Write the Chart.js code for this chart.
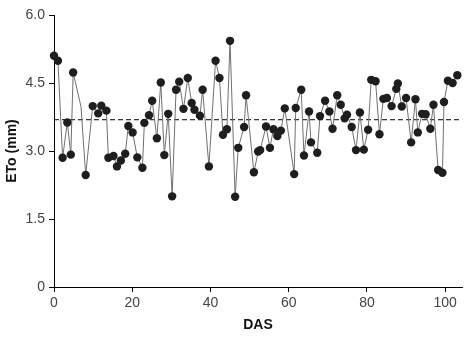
<!DOCTYPE html>
<html>
<head>
<meta charset="utf-8">
<script src="https://cdn.jsdelivr.net/npm/chart.js@4/dist/chart.umd.min.js"></script>
<style>
  html, body { margin: 0; padding: 0; background: #fff; }
  #wrap { width: 470px; height: 338px; }
</style>
</head>
<body>
<div id="wrap"><canvas id="etoChart" width="470" height="338"></canvas></div>
<script>
// days after sowing (DAS) and daily ETo (mm)
const days = [0, 1, 2.2, 3.4, 4.3, 4.9, 6.9, 8.1, 9.9, 11.3,
    12.1, 13.4, 13.9, 15.2, 16.1, 17.1, 18.2, 19.0, 20.1, 21.3,
    22.6, 23.1, 24.3, 25.1, 26.3, 27.3, 28.2, 29.2, 30.2, 31.2,
    32.0, 33.1, 34.2, 35.2, 35.9, 37.3, 38.0, 39.6, 41.3, 42.3,
    43.2, 44.2, 45.0, 46.3, 47.1, 48.6, 49.1, 51.1, 52.2, 52.7,
    54.2, 55.2, 56.1, 57.1, 58.0, 59.0, 61.4, 61.8, 63.2, 63.9,
    65.2, 65.7, 67.3, 68.0, 69.3, 70.4, 71.2, 72.4, 73.3, 74.3,
    74.9, 76.1, 77.2, 78.2, 79.2, 80.3, 81.1, 82.2, 83.2, 84.2,
    85.1, 86.3, 87.5, 87.9, 88.9, 90.0, 91.3, 92.4, 93.0, 94.1,
    95.0, 96.2, 97.0, 98.2, 99.3, 99.7, 100.7, 101.9, 103.1];
const eto = [5.10, 4.99, 2.85, 3.63, 2.92, 4.73, 3.98, 2.47, 3.99, 3.83,
    4.00, 3.89, 2.85, 2.89, 2.66, 2.79, 2.94, 3.55, 3.41, 2.86,
    2.63, 3.62, 3.79, 4.11, 3.28, 4.51, 2.91, 3.82, 2.00, 4.35,
    4.53, 3.93, 4.61, 4.06, 3.91, 3.78, 4.35, 2.66, 4.99, 4.61,
    3.36, 3.48, 5.43, 1.99, 3.07, 3.53, 4.23, 2.53, 2.99, 3.02,
    3.54, 3.07, 3.48, 3.33, 3.45, 3.94, 2.49, 3.95, 4.35, 2.90,
    3.87, 3.19, 2.96, 3.77, 4.11, 3.87, 3.49, 4.23, 4.02, 3.72,
    3.80, 3.53, 3.02, 3.85, 3.03, 3.47, 4.57, 4.54, 3.37, 4.15,
    4.17, 3.99, 4.37, 4.49, 3.98, 4.17, 3.19, 4.14, 3.41, 3.82,
    3.81, 3.49, 4.02, 2.58, 2.52, 4.08, 4.55, 4.50, 4.67];
const noMarker = [6]; // point drawn without a marker in the original
const meanEto = 3.69;
const xTicks = [0, 20, 40, 60, 80, 100];
const yTicks = [0, 1.5, 3.0, 4.5, 6.0];
const xMax = 104.3;

const font = 'Liberation Sans Narrow, Arial Narrow, sans-serif';

const points = days.map((d, i) => ({ x: d, y: eto[i] }));
const meanLine = [{ x: 0, y: meanEto }, { x: xMax, y: meanEto }];

const ctx = document.getElementById('etoChart').getContext('2d');
new Chart(ctx, {
    type: 'scatter',
    data: {
        datasets: [{
            label: 'ETo',
            data: points,
            showLine: true,
            clip: false,
            borderColor: '#707070',
            borderWidth: 1,
            backgroundColor: '#1e1e1e',
            pointBorderColor: '#1e1e1e',
            pointRadius: c => noMarker.includes(c.dataIndex) ? 0 : 4.2,
            pointBorderWidth: 0
        }, {
            label: 'Mean',
            data: meanLine,
            showLine: true,
            borderColor: '#000',
            borderWidth: 1,
            borderDash: [5, 3],
            pointRadius: 0
        }]
    },
    options: {
        responsive: false,
        animation: false,
        layout: { padding: { top: 15, right: 8, left: 0, bottom: 0 } },
        plugins: { legend: { display: false }, tooltip: { enabled: false } },
        scales: {
            x: {
                type: 'linear',
                min: 0,
                max: xMax,
                afterBuildTicks: s => { s.ticks = xTicks.map(v => ({ value: v })); },
                afterFit: s => { s.height = 51; },
                border: { display: true, color: '#000', width: 1 },
                grid: { display: true, drawOnChartArea: false, color: '#000', tickLength: 5 },
                ticks: { color: '#444', font: { family: font, size: 14 }, padding: 3, maxRotation: 0 },
                title: { display: true, text: 'DAS', color: '#111', font: { family: font, size: 14, weight: 'bold' }, padding: { top: 3 } }
            },
            y: {
                min: 0,
                max: 6,
                afterBuildTicks: s => { s.ticks = yTicks.map(v => ({ value: v })); },
                afterFit: s => { s.width = 54; },
                border: { display: true, color: '#000', width: 1 },
                grid: { display: true, drawOnChartArea: false, color: '#000', tickLength: 5 },
                ticks: {
                    color: '#444',
                    font: { family: font, size: 14 },
                    padding: 4,
                    callback: v => v === 0 ? '0' : v.toFixed(1)
                },
                title: { display: true, text: 'ETo (mm)', color: '#111', font: { family: font, size: 14, weight: 'bold' }, padding: { bottom: 6 } }
            }
        }
    }
});
</script>
</body>
</html>
